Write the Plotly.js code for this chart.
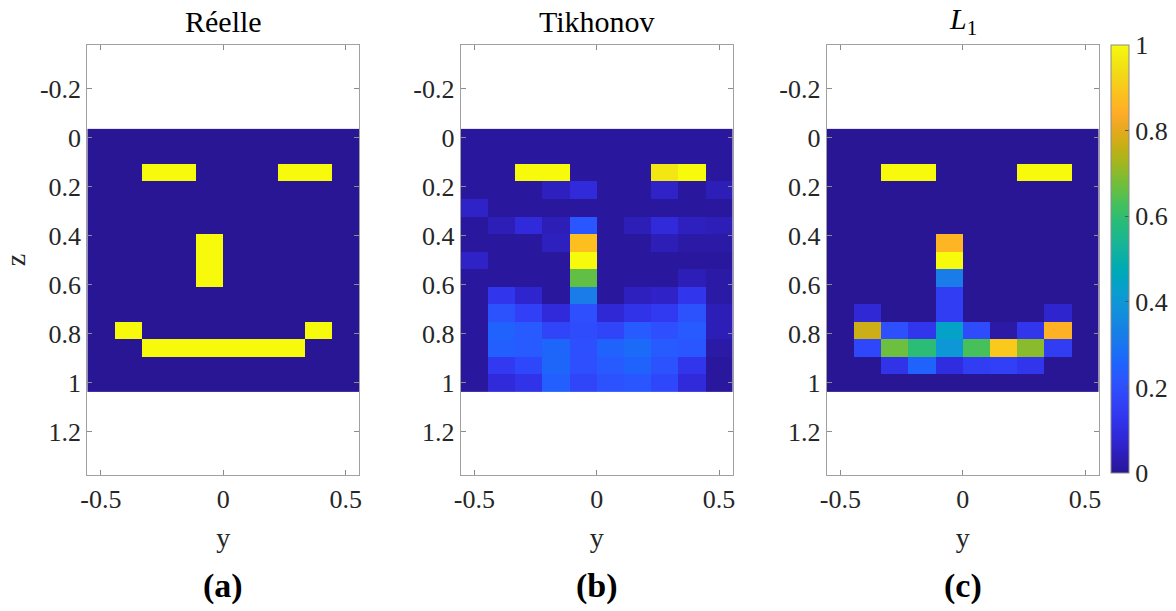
<!DOCTYPE html>
<html>
<head>
<meta charset="utf-8">
<script src="https://cdn.plot.ly/plotly-3.0.1.min.js"></script>
<style>html,body{margin:0;padding:0;background:#fff;}#chart{width:1176px;height:611px;}</style>
</head>
<body>
<div id="chart"></div>
<script>
// cell centres
const yCoords = [-0.5, -0.3889, -0.2778, -0.1667, -0.0556, 0.0556, 0.1667, 0.2778, 0.3889, 0.5];
const zCoords = [0, 0.0714, 0.1429, 0.2143, 0.2857, 0.3571, 0.4286, 0.5, 0.5714, 0.6429, 0.7143, 0.7857, 0.8571, 0.9286, 1];

const panelTitles = ["Réelle", "Tikhonov", "<i>L</i><sub>1</sub>"];
const panelLabels = ["(a)", "(b)", "(c)"];
const xTickVals = [-0.5, 0, 0.5];
const xTickText = ["-0.5", "0", "0.5"];
const zTickVals = [-0.2, 0, 0.2, 0.4, 0.6, 0.8, 1, 1.2];
const zTickText = ["-0.2", "0", "0.2", "0.4", "0.6", "0.8", "1", "1.2"];
const cbTickVals = [0, 0.2, 0.4, 0.6, 0.8, 1];
const cbTickText = ["0", "0.2", "0.4", "0.6", "0.8", "1"];

const reelle = [
  [0,0,0,0,0,0,0,0,0,0],
  [0,0,0,0,0,0,0,0,0,0],
  [0,0,1,1,0,0,0,1,1,0],
  [0,0,0,0,0,0,0,0,0,0],
  [0,0,0,0,0,0,0,0,0,0],
  [0,0,0,0,0,0,0,0,0,0],
  [0,0,0,0,1,0,0,0,0,0],
  [0,0,0,0,1,0,0,0,0,0],
  [0,0,0,0,1,0,0,0,0,0],
  [0,0,0,0,0,0,0,0,0,0],
  [0,0,0,0,0,0,0,0,0,0],
  [0,1,0,0,0,0,0,0,1,0],
  [0,0,1,1,1,1,1,1,0,0],
  [0,0,0,0,0,0,0,0,0,0],
  [0,0,0,0,0,0,0,0,0,0]
];

const tikhonov = [
  [0.01,0.01,0.01,0.01,0.01,0.01,0.01,0.01,0.01,0.01],
  [0.01,0.01,0.01,0.01,0.01,0.01,0.01,0.01,0.01,0.01],
  [0.01,0.01,1.00,1.00,0.01,0.01,0.01,0.96,1.00,0.01],
  [0.01,0.01,0.01,0.05,0.09,0.01,0.01,0.06,0.01,0.04],
  [0.06,0.01,0.01,0.01,0.01,0.01,0.01,0.01,0.01,0.01],
  [0.01,0.04,0.09,0.04,0.22,0.01,0.04,0.09,0.05,0.04],
  [0.01,0.01,0.01,0.05,0.88,0.01,0.01,0.04,0.02,0.02],
  [0.06,0.01,0.01,0.01,1.00,0.01,0.01,0.01,0.01,0.01],
  [0.01,0.01,0.01,0.01,0.66,0.01,0.01,0.01,0.04,0.02],
  [0.01,0.13,0.07,0.01,0.32,0.01,0.05,0.06,0.13,0.02],
  [0.01,0.21,0.16,0.09,0.20,0.08,0.12,0.14,0.21,0.04],
  [0.01,0.25,0.23,0.17,0.19,0.17,0.23,0.20,0.23,0.04],
  [0.01,0.24,0.23,0.26,0.20,0.25,0.27,0.23,0.22,0.02],
  [0.01,0.14,0.18,0.26,0.20,0.23,0.25,0.21,0.13,0.01],
  [0.01,0.09,0.12,0.24,0.17,0.21,0.22,0.18,0.09,0.01]
];

const l1 = [
  [0,0,0,0,0,0,0,0,0,0],
  [0,0,0,0,0,0,0,0,0,0],
  [0,0,1,1,0,0,0,1,1,0],
  [0,0,0,0,0,0,0,0,0,0],
  [0,0,0,0,0,0,0,0,0,0],
  [0,0,0,0,0,0,0,0,0,0],
  [0,0,0,0,0.86,0,0,0,0,0],
  [0,0,0,0,1.00,0,0,0,0,0],
  [0,0,0,0,0.32,0,0,0,0,0],
  [0,0,0,0,0.15,0,0,0,0,0],
  [0,0.08,0,0,0.15,0,0,0,0.07,0],
  [0,0.77,0.20,0.13,0.44,0.19,0.02,0.13,0.85,0],
  [0,0.18,0.67,0.59,0.40,0.63,0.90,0.70,0.15,0],
  [0,0,0.12,0.25,0.10,0.15,0.16,0.13,0,0],
  [0,0,0,0,0,0,0,0,0,0]
];

// MATLAB parula (64)
const parula = [
[0.2422,0.1504,0.6603],[0.2504,0.1650,0.7076],[0.2578,0.1818,0.7511],[0.2647,0.1978,0.7952],
[0.2706,0.2147,0.8364],[0.2751,0.2342,0.8710],[0.2783,0.2559,0.8991],[0.2803,0.2782,0.9221],
[0.2813,0.3006,0.9414],[0.2810,0.3228,0.9579],[0.2795,0.3447,0.9717],[0.2760,0.3667,0.9829],
[0.2699,0.3892,0.9906],[0.2602,0.4123,0.9952],[0.2440,0.4358,0.9988],[0.2206,0.4603,0.9973],
[0.1963,0.4847,0.9892],[0.1834,0.5074,0.9798],[0.1786,0.5289,0.9682],[0.1764,0.5499,0.9520],
[0.1687,0.5703,0.9359],[0.1540,0.5902,0.9218],[0.1460,0.6091,0.9079],[0.1380,0.6276,0.8973],
[0.1248,0.6459,0.8883],[0.1113,0.6635,0.8763],[0.0952,0.6798,0.8598],[0.0689,0.6948,0.8394],
[0.0297,0.7082,0.8163],[0.0036,0.7203,0.7917],[0.0067,0.7312,0.7660],[0.0433,0.7411,0.7394],
[0.0964,0.7500,0.7120],[0.1408,0.7584,0.6842],[0.1717,0.7670,0.6554],[0.1938,0.7758,0.6251],
[0.2161,0.7843,0.5923],[0.2470,0.7918,0.5567],[0.2906,0.7973,0.5188],[0.3406,0.8008,0.4789],
[0.3909,0.8029,0.4354],[0.4456,0.8024,0.3909],[0.5044,0.7993,0.3480],[0.5616,0.7942,0.3045],
[0.6174,0.7876,0.2612],[0.6720,0.7793,0.2227],[0.7242,0.7698,0.1910],[0.7738,0.7598,0.1646],
[0.8203,0.7498,0.1535],[0.8634,0.7406,0.1596],[0.9035,0.7330,0.1774],[0.9393,0.7288,0.2100],
[0.9728,0.7298,0.2394],[0.9956,0.7434,0.2371],[0.9970,0.7659,0.2199],[0.9952,0.7893,0.2028],
[0.9892,0.8136,0.1885],[0.9786,0.8386,0.1766],[0.9676,0.8639,0.1643],[0.9610,0.8890,0.1537],
[0.9597,0.9135,0.1423],[0.9628,0.9373,0.1265],[0.9691,0.9606,0.1064],[0.9769,0.9839,0.0805]
];
// the reference rendering is slightly darker / more saturated than raw parula
const GAMMA = 1.3;
const colorscale = parula.map((c, i) => [i / (parula.length - 1),
  'rgb(' + c.map(v => Math.round(Math.pow(v, GAMMA) * 255)).join(',') + ')']);

const W = 1176, H = 611;
const FONT = "'Liberation Serif', 'Times New Roman', serif";
const axLeft = [87.3, 460.7, 826.7];
const axWidth = 272;
const axTop = 45, axBottom = 475.3;

const datasets = [reelle, tikhonov, l1];
const traces = datasets.map((z, i) => ({
  type: 'heatmap',
  x: yCoords, y: zCoords, z: z,
  coloraxis: 'coloraxis',
  zsmooth: false,
  xaxis: i === 0 ? 'x' : 'x' + (i + 1),
  yaxis: i === 0 ? 'y' : 'y' + (i + 1),
  hoverinfo: 'x+y+z'
}));

const layout = {
  width: W, height: H,
  margin: {l: 0, r: 0, t: 0, b: 0},
  paper_bgcolor: '#fff', plot_bgcolor: '#fff',
  showlegend: false,
  font: {family: FONT, size: 26, color: '#262626'},
  coloraxis: {
    colorscale: colorscale, cmin: 0, cmax: 1,
    colorbar: {
      x: 1110.7 / W, xanchor: 'left', xpad: 0,
      y: 1 - axTop / H, yanchor: 'top', ypad: 0,
      len: (473.3 - axTop) / H, lenmode: 'fraction',
      thickness: 17.6, thicknessmode: 'pixels',
      outlinecolor: '#8c8c8c', outlinewidth: 1,
      tickmode: 'array', tickvals: cbTickVals, ticktext: cbTickText,
      ticks: 'inside', ticklen: 4, tickcolor: '#555',
      tickfont: {family: FONT, size: 26, color: '#262626'}
    }
  },
  annotations: []
};

for (let i = 0; i < 3; i++) {
  const sx = i === 0 ? '' : String(i + 1);
  layout['xaxis' + sx] = {
    domain: [axLeft[i] / W, (axLeft[i] + axWidth) / W],
    range: [-0.5556, 0.5556],
    anchor: 'y' + sx,
    tickmode: 'array', tickvals: xTickVals, ticktext: xTickText,
    ticks: 'inside', ticklen: 5, tickcolor: '#8c8c8c',
    showline: true, mirror: 'ticks', linecolor: '#a0a0a0', linewidth: 1,
    showgrid: false, zeroline: false,
    tickfont: {family: FONT, size: 26, color: '#262626'},
    title: {text: 'y', font: {family: FONT, size: 28, color: '#262626'}, standoff: 14}
  };
  layout['yaxis' + sx] = {
    domain: [1 - axBottom / H, 1 - axTop / H],
    range: [1.378, -0.378],
    anchor: 'x' + sx,
    tickmode: 'array', tickvals: zTickVals, ticktext: zTickText,
    ticks: 'inside', ticklen: 5, tickcolor: '#8c8c8c',
    showline: true, mirror: 'ticks', linecolor: '#a0a0a0', linewidth: 1,
    showgrid: false, zeroline: false,
    tickfont: {family: FONT, size: 26, color: '#262626'},
    title: i === 0 ? {text: 'z', font: {family: FONT, size: 28, color: '#262626'}, standoff: 22} : {text: ''}
  };
  const cx = (axLeft[i] + axWidth / 2) / W;
  layout.annotations.push({
    text: panelTitles[i], xref: 'paper', yref: 'paper',
    x: cx, y: 1 - 21 / H, xanchor: 'center', yanchor: 'middle',
    showarrow: false, font: {family: FONT, size: 30, color: '#000'}
  });
  layout.annotations.push({
    text: '<b>' + panelLabels[i] + '</b>', xref: 'paper', yref: 'paper',
    x: cx, y: 1 - 586 / H, xanchor: 'center', yanchor: 'middle',
    showarrow: false, font: {family: FONT, size: 34, color: '#000'}
  });
}

Plotly.newPlot('chart', traces, layout, {displayModeBar: false, staticPlot: true});
</script>
</body>
</html>
